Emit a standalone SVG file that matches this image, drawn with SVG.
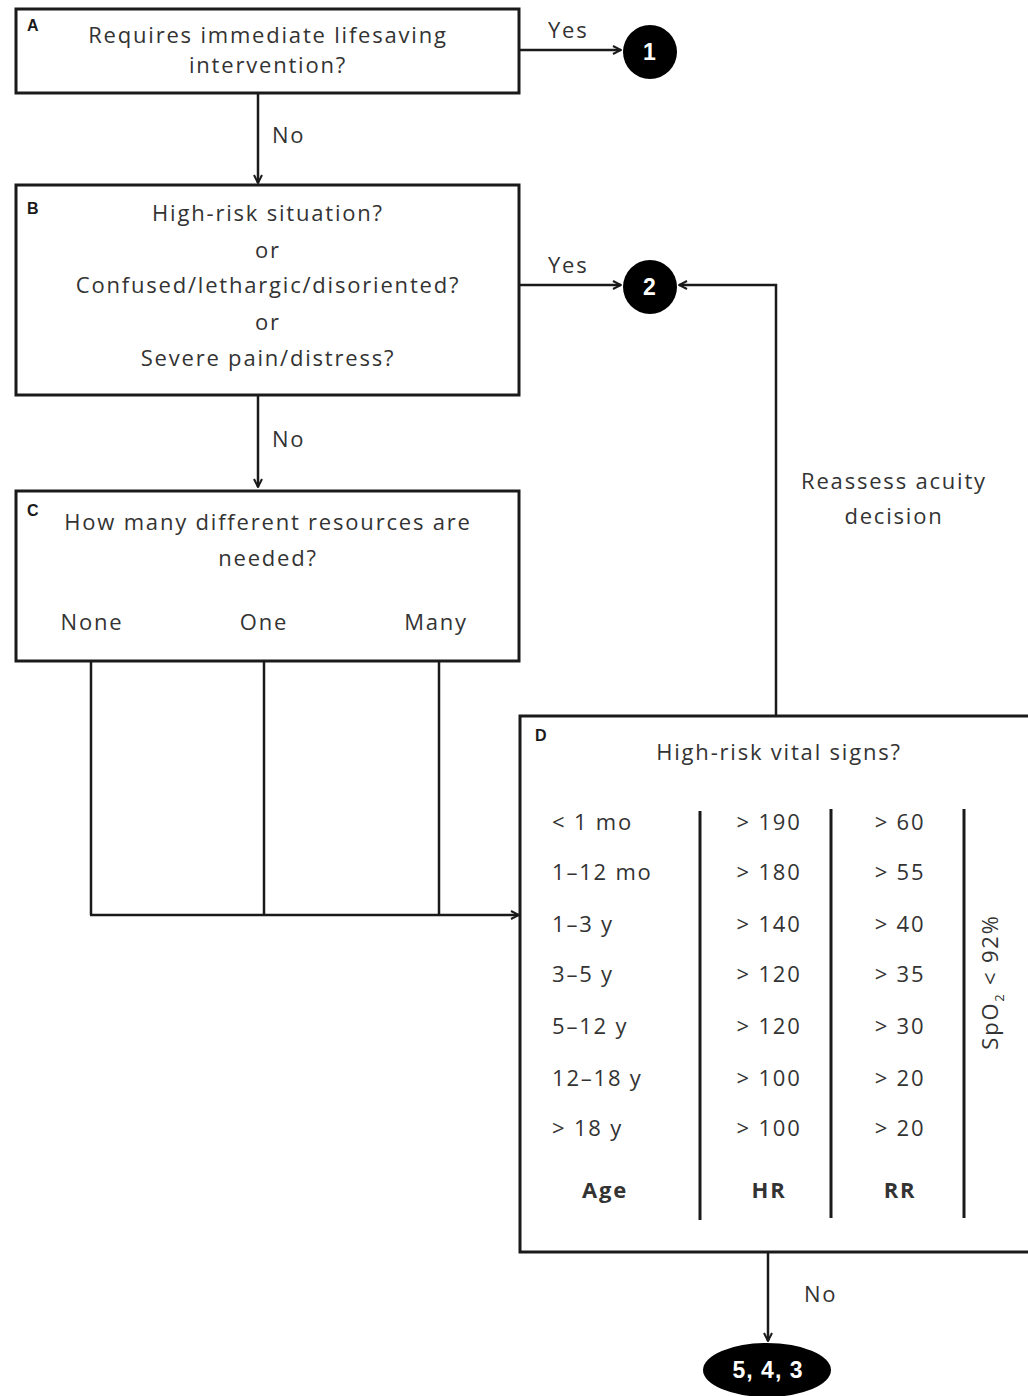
<svg xmlns="http://www.w3.org/2000/svg" width="1028" height="1396" viewBox="0 0 1028 1396">
<style>
.box{fill:#fff;stroke:#1a1a1a;stroke-width:3}
.t{font-family:"Open Sans","Liberation Sans",sans-serif;font-size:22px;letter-spacing:1.8px;fill:#333;text-anchor:middle}
.tl{font-family:"Open Sans","Liberation Sans",sans-serif;font-size:22px;letter-spacing:1.8px;fill:#333}
.lab{font-family:"Liberation Sans",sans-serif;font-size:16px;font-weight:bold;fill:#1a1a1a}
.hd{font-family:"Open Sans","Liberation Sans",sans-serif;font-size:22px;letter-spacing:1.8px;font-weight:bold;fill:#333;text-anchor:middle}
.c{stroke:#1a1a1a;stroke-width:2.5;fill:none}
.col{stroke:#1a1a1a;stroke-width:3}
.term{fill:#000}
.tt{font-family:"Liberation Sans",sans-serif;font-size:23px;letter-spacing:1px;font-weight:bold;fill:#fff;text-anchor:middle}
</style>
<defs>
<marker id="ah" viewBox="0 0 10 10" refX="9" refY="5" markerWidth="10" markerHeight="10" markerUnits="userSpaceOnUse" orient="auto">
<path d="M1,1 L9,5 L1,9" fill="none" stroke="#1a1a1a" stroke-width="2"/>
</marker>
</defs>
<rect width="1028" height="1396" fill="#fff"/>
<g id="connectors">
<line class="c" x1="519" y1="50" x2="621" y2="50" marker-end="url(#ah)"/>
<line class="c" x1="258" y1="93" x2="258" y2="183" marker-end="url(#ah)"/>
<line class="c" x1="519" y1="285" x2="621" y2="285" marker-end="url(#ah)"/>
<line class="c" x1="258" y1="395" x2="258" y2="487" marker-end="url(#ah)"/>
<polyline class="c" points="776,716 776,285 679,285" marker-end="url(#ah)"/>
<line class="c" x1="91" y1="661" x2="91" y2="915"/>
<line class="c" x1="264" y1="661" x2="264" y2="915"/>
<line class="c" x1="439" y1="661" x2="439" y2="915"/>
<line class="c" x1="90" y1="915" x2="519" y2="915" marker-end="url(#ah)"/>
<line class="c" x1="768" y1="1252" x2="768" y2="1341" marker-end="url(#ah)"/>
<text class="tl" x="548" y="38">Yes</text>
<text class="tl" x="272" y="143">No</text>
<text class="tl" x="548" y="273">Yes</text>
<text class="tl" x="272" y="447">No</text>
<text class="t" x="894" y="489">Reassess acuity</text>
<text class="t" x="894" y="524">decision</text>
<text class="tl" x="804" y="1302">No</text>
</g>
<g id="nodeA">
<rect class="box" x="16" y="9" width="503" height="84"/>
<text class="lab" x="27" y="31">A</text>
<text class="t" x="268" y="43">Requires immediate lifesaving</text>
<text class="t" x="268" y="73">intervention?</text>
</g>
<g id="node1">
<circle class="term" cx="650" cy="52" r="27"/>
<text class="tt" x="650" y="60">1</text>
</g>
<g id="nodeB">
<rect class="box" x="16" y="185" width="503" height="210"/>
<text class="lab" x="27" y="214">B</text>
<text class="t" x="268" y="221">High-risk situation?</text>
<text class="t" x="268" y="258">or</text>
<text class="t" x="268" y="293">Confused/lethargic/disoriented?</text>
<text class="t" x="268" y="330">or</text>
<text class="t" x="268" y="366">Severe pain/distress?</text>
</g>
<g id="node2">
<circle class="term" cx="650" cy="287" r="27"/>
<text class="tt" x="650" y="295">2</text>
</g>
<g id="nodeC">
<rect class="box" x="16" y="491" width="503" height="170"/>
<text class="lab" x="27" y="516">C</text>
<text class="t" x="268" y="530">How many different resources are</text>
<text class="t" x="268" y="566">needed?</text>
<text class="t" x="92" y="630">None</text>
<text class="t" x="264" y="630">One</text>
<text class="t" x="436" y="630">Many</text>
</g>
<g id="nodeD">
<rect class="box" x="520" y="716" width="520" height="536"/>
<text class="lab" x="535" y="741">D</text>
<text class="t" x="779" y="760">High-risk vital signs?</text>
<line class="col" x1="700" y1="811" x2="700" y2="1220"/>
<line class="col" x1="831" y1="809" x2="831" y2="1218"/>
<line class="col" x1="964" y1="809" x2="964" y2="1218"/>
<text class="tl" x="552" y="830">&lt; 1 mo</text>
<text class="tl" x="552" y="880">1–12 mo</text>
<text class="tl" x="552" y="932">1–3 y</text>
<text class="tl" x="552" y="982">3–5 y</text>
<text class="tl" x="552" y="1034">5–12 y</text>
<text class="tl" x="552" y="1086">12–18 y</text>
<text class="tl" x="552" y="1136">&gt; 18 y</text>
<text class="t" x="769" y="830">&gt; 190</text>
<text class="t" x="769" y="880">&gt; 180</text>
<text class="t" x="769" y="932">&gt; 140</text>
<text class="t" x="769" y="982">&gt; 120</text>
<text class="t" x="769" y="1034">&gt; 120</text>
<text class="t" x="769" y="1086">&gt; 100</text>
<text class="t" x="769" y="1136">&gt; 100</text>
<text class="t" x="900" y="830">&gt; 60</text>
<text class="t" x="900" y="880">&gt; 55</text>
<text class="t" x="900" y="932">&gt; 40</text>
<text class="t" x="900" y="982">&gt; 35</text>
<text class="t" x="900" y="1034">&gt; 30</text>
<text class="t" x="900" y="1086">&gt; 20</text>
<text class="t" x="900" y="1136">&gt; 20</text>
<text class="hd" x="605" y="1198">Age</text>
<text class="hd" x="769" y="1198">HR</text>
<text class="hd" x="900" y="1198">RR</text>
<text class="t" transform="translate(998,982) rotate(-90)">SpO<tspan font-size="13" dy="6">2</tspan><tspan dy="-6"> &lt; 92%</tspan></text>
</g>
<g id="node543">
<ellipse class="term" cx="767" cy="1370" rx="64" ry="27"/>
<text class="tt" x="768" y="1378">5, 4, 3</text>
</g>
</svg>
